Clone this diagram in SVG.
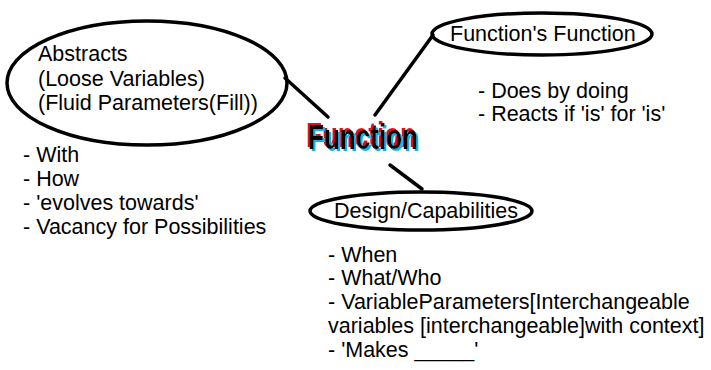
<svg xmlns="http://www.w3.org/2000/svg" width="711" height="370" viewBox="0 0 711 370">
<style>
.ell{fill:none;stroke:#000;stroke-width:3.5}
.con{fill:none;stroke:#000;stroke-width:3.5;stroke-linecap:round}
text{font-family:"Liberation Sans",Arial,sans-serif;font-size:21.5px;fill:#000}
.big{font-size:35px;font-weight:bold}
</style>
<defs>
<filter id="rgb" x="-10%" y="-20%" width="120%" height="140%">
<feOffset in="SourceAlpha" dx="-2" dy="-2" result="o1"/>
<feFlood flood-color="#e8101c"/>
<feComposite in2="o1" operator="in" result="red"/>
<feOffset in="SourceAlpha" dx="2" dy="2" result="o2"/>
<feFlood flood-color="#10b4ef"/>
<feComposite in2="o2" operator="in" result="blue"/>
<feMerge><feMergeNode in="red"/><feMergeNode in="blue"/><feMergeNode in="SourceGraphic"/></feMerge>
</filter>
</defs>
<rect width="711" height="370" fill="#fff"/>
<g id="connectors">
<line class="con" x1="285" y1="78" x2="328" y2="117"/>
<line class="con" x1="433" y1="35" x2="375" y2="115"/>
<line class="con" x1="390" y1="165" x2="422" y2="189"/>
</g>
<g id="center">
<text class="big" x="308" y="149" textLength="110" lengthAdjust="spacingAndGlyphs" filter="url(#rgb)">Function</text>
</g>
<g id="abstracts">
<ellipse class="ell" cx="147" cy="83" rx="140" ry="62"/>
<text x="38" y="61">Abstracts</text>
<text x="38" y="86">(Loose Variables)</text>
<text x="38" y="110">(Fluid Parameters(Fill))</text>
<text x="23" y="162">- With</text>
<text x="23" y="186">- How</text>
<text x="23" y="210">- 'evolves towards'</text>
<text x="23" y="234">- Vacancy for Possibilities</text>
</g>
<g id="functions-function">
<ellipse class="ell" cx="542" cy="34" rx="110" ry="21"/>
<text x="450" y="41">Function's Function</text>
<text x="478" y="98">- Does by doing</text>
<text x="478" y="121">- Reacts if 'is' for 'is'</text>
</g>
<g id="design">
<ellipse class="ell" cx="421" cy="211" rx="111" ry="19"/>
<text x="334" y="218">Design/Capabilities</text>
<text x="328" y="262">- When</text>
<text x="328" y="285">- What/Who</text>
<text x="328" y="309">- VariableParameters[Interchangeable</text>
<text x="328" y="333">variables [interchangeable]with context]</text>
<text x="328" y="357">- 'Makes _____'</text>
</g>
</svg>
